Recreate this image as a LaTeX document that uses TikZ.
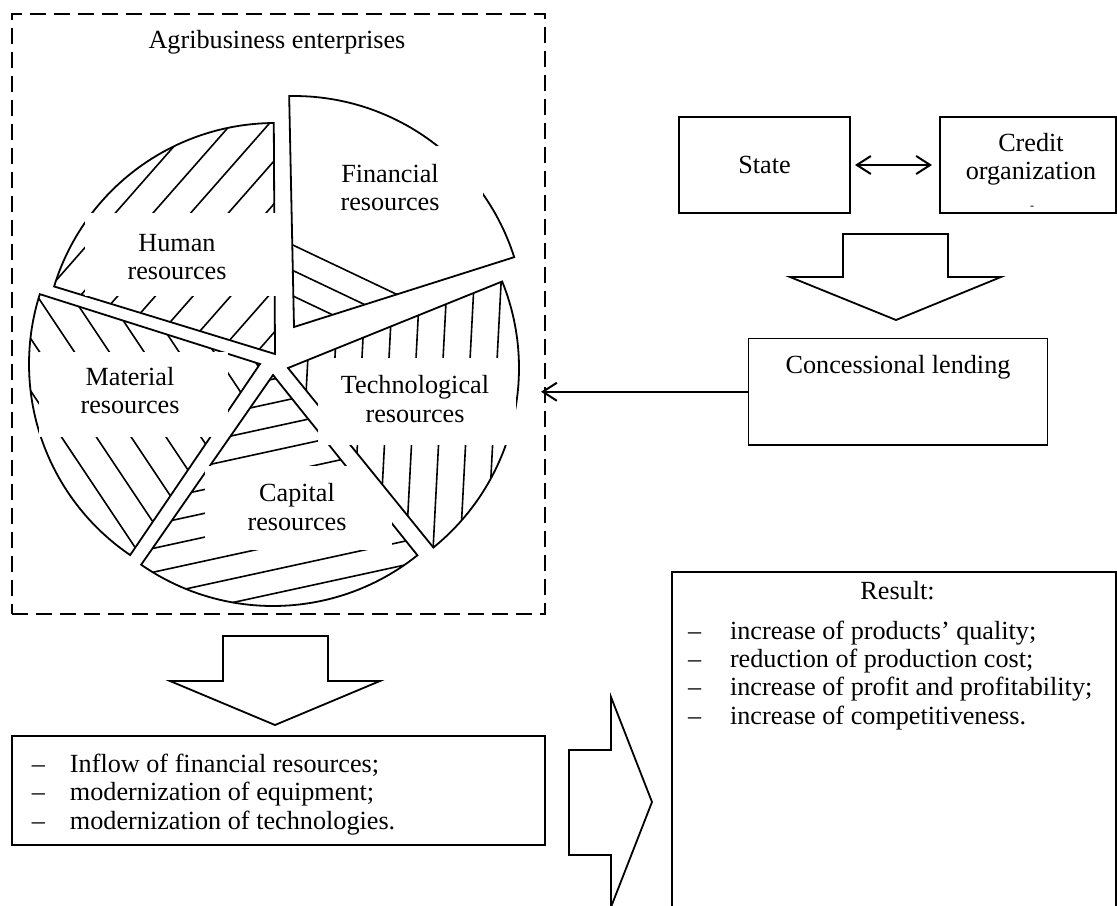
\documentclass[tikz,border=0pt]{standalone}
\usepackage{fontspec}
\setmainfont{Liberation Serif}
\usetikzlibrary{arrows.meta}
\newcommand{\hatchlines}[6]{%
  \begin{scope}[shift={(#1,#2)},rotate=#3]
    \foreach \k in {#5,...,#6}{\draw[hatchpen] (-520,\k*#4) -- (520,\k*#4);}
  \end{scope}}
\begin{document}
\begin{tikzpicture}[x=0.5pt,y=-0.5pt,
  line width=0.9pt,
  every node/.style={font=\fontsize{13.1}{14.2}\selectfont, inner sep=0pt, outer sep=0pt},
  pieslice/.style n args={4}{insert path={(#1,#2) -- plot[domain=#3:#4,samples=60,variable=\t] ({#1+231*cos(\t)},{#2-231*sin(\t)}) -- cycle}},
  slicepen/.style={line width=0.9pt, line join=miter},
  hatchpen/.style={line width=0.8pt},
  cover/.style={fill=white},
  boxnode/.style={draw, line width=0.9pt, align=center},
  blockarrow/.style={draw, line width=0.9pt, line join=miter},
  barb/.style={line width=1pt},
  listline/.style={anchor=base west}
]
\useasboundingbox (0,0) rectangle (1117,905);

% enterprise frame
\node[draw, dash pattern=on 8pt off 4pt, line width=0.8pt, minimum width=266.5pt, minimum height=300pt] (ent) at (278.5,314) {};
\node (title) at (277,42) {Agribusiness enterprises};

% Financial
\begin{scope}\clip[pieslice={294}{327}{17.6}{91.2}];\hatchlines{297}{247}{-25.4}{23}{0}{2}\end{scope}
\draw[slicepen, pieslice={294}{327}{17.6}{91.2}];
\fill[cover] (297,146) rectangle (483,245);
\node[align=center] (fin) at (390,187.5) {Financial\\resources};

% Human
\begin{scope}\clip[pieslice={275}{354}{90.3}{163}];\hatchlines{153}{213}{48.7}{28.3}{-15}{15}\end{scope}
\draw[slicepen, pieslice={275}{354}{90.3}{163}];
\fill[cover] (85,213) rectangle (277,296);
\node[align=center] (hum) at (177,257) {Human\\resources};

% Material
\begin{scope}\clip[pieslice={260}{364}{162.4}{235.8}];\hatchlines{80}{308}{-56.3}{29}{-15}{15}\end{scope}
\draw[slicepen, pieslice={260}{364}{162.4}{235.8}];
\fill[cover] (39,352) rectangle (228,437);
\node[align=center] (mat) at (130,390.5) {Material\\resources};

% Capital
\begin{scope}\clip[pieslice={273}{375}{235.2}{308.7}];\hatchlines{250}{408}{12.3}{23.3}{-15}{15}\end{scope}
\draw[slicepen, pieslice={273}{375}{235.2}{308.7}];
\fill[cover] (205,466) rectangle (392,550);
\node[align=center] (cap) at (297,507) {Capital\\resources};

% Technological
\begin{scope}\clip[pieslice={288}{368}{-51}{22}];\hatchlines{389}{358}{87}{27}{-15}{15}\end{scope}
\draw[slicepen, pieslice={288}{368}{-51}{22}];
\fill[cover] (318,358) rectangle (516,445);
\node[align=center] (tech) at (415,399) {Technological\\resources};

% State and credit organization
\node[boxnode, minimum width=85.5pt, minimum height=48pt] (state) at (764.5,165) {State};
\node[boxnode, minimum width=88pt, minimum height=48pt] (credit) at (1028,165) {};
\node[align=center] (credittxt) at (1031,159) {Credit\\organization};
\node[font=\fontsize{6}{7}\selectfont] (creditdash) at (1032,208) {-};
\draw[barb, {Straight Barb[length=7pt,width=9pt]}-{Straight Barb[length=7pt,width=9pt]}, shorten <=2.5pt, shorten >=4pt] (state.east) -- (credit.west);

% block arrow down (top right)
\draw[blockarrow] (843,234) -- (948,234) -- (948,277) -- (1001,277) -- (896,320) -- (790,277) -- (843,277) -- cycle;

% concessional lending
\node[boxnode, minimum width=149.5pt, minimum height=53.25pt] (conc) at (898,391.75) {};
\node (conctxt) at (898,367) {Concessional lending};
\draw[barb, -{Straight Barb[length=7pt,width=9pt]}, shorten >=-2pt] (conc.west) -- (conc.west -| ent.east);

% block arrow down (bottom left)
\draw[blockarrow] (223,636) -- (328,636) -- (328,681) -- (380,681) -- (275,725) -- (170,681) -- (223,681) -- cycle;

% effects box
\node[boxnode, minimum width=266.5pt, minimum height=54.5pt] (effects) at (278.5,790.5) {};
\node[listline] (e1) at (32,772) {\makebox[19pt][l]{–}Inflow of financial resources;};
\node[listline] (e2) at (32,800) {\makebox[19pt][l]{–}modernization of equipment;};
\node[listline] (e3) at (32,829) {\makebox[19pt][l]{–}modernization of technologies.};

% block arrow right
\draw[blockarrow] (569,750) -- (611,750) -- (611,697) -- (652,802) -- (611,907) -- (611,855) -- (569,855) -- cycle;

% result box
\node[boxnode, minimum width=222pt, minimum height=169pt] (result) at (894,741) {};
\node[anchor=base] (rtitle) at (897.5,599) {Result:};
\node[listline] (r1) at (688,639) {\makebox[21pt][l]{–}increase of products’ quality;};
\node[listline] (r2) at (688,667) {\makebox[21pt][l]{–}reduction of production cost;};
\node[listline] (r3) at (688,695) {\makebox[21pt][l]{–}increase of profit and profitability;};
\node[listline] (r4) at (688,724) {\makebox[21pt][l]{–}increase of competitiveness.};
\end{tikzpicture}
\end{document}
